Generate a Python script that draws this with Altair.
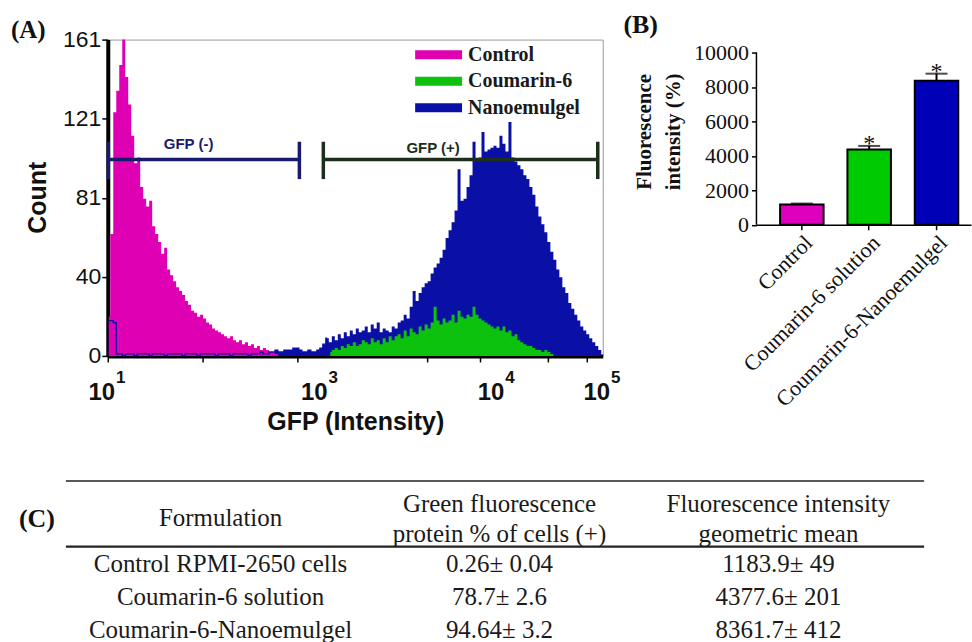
import altair as alt
import pandas as pd

# ---------------- Panel (A): flow-cytometry histograms ----------------
SERIES = ["Control", "Coumarin-6", "Nanoemulgel"]
HIST_COLORS = ["#E000B4", "#0CC20C", "#0A10A6"]
BIN = 6  # width of one histogram bin, in channel units

control_start = 2
control_counts = [20, 62, 124, 135, 148, 161, 142, 128, 112, 98, 101, 86, 80, 76, 79, 66, 62, 58, 52, 55,
                  44, 41, 38, 35, 33, 31, 28, 26, 23, 22, 20, 21, 19, 17, 16, 14, 13, 12, 11, 10,
                  9, 10, 8, 7, 8, 6, 7, 5, 6, 4, 5, 3, 4, 3, 2, 2, 1, 0]

nano_start = 2
nano_counts = [18, 18, 17,
               1, 1, 0, 1, 1, 1, 0, 1, 1, 1, 1, 0, 1, 1, 1, 1, 0, 1, 1, 1, 1, 1, 0, 1, 1, 1, 1, 0, 1, 1,
               1, 1, 1, 0, 1, 1, 1, 1, 0, 1, 1, 1, 1, 1, 0, 1, 1, 1, 2, 1, 1,
               2, 2, 3, 2, 2, 3, 3, 3, 4, 4, 3, 2, 2, 3, 2, 2, 3, 4,
               6, 9, 7, 10, 8, 11, 9, 12, 10, 13, 11, 14, 12, 13, 15, 12, 16, 14, 17, 12,
               14, 13, 12, 15, 14, 17, 18, 21, 19, 25, 33, 28, 32, 35, 37, 38, 42, 45, 47, 50,
               54, 60, 64, 68, 74, 95, 79, 80, 86, 92, 109, 100, 101, 114, 104, 105, 106, 107, 106, 112,
               108, 104, 119, 101, 99, 97, 95, 92, 90, 86, 82, 76, 71, 67, 63, 58, 53, 49, 44, 40,
               35, 32, 27, 24, 21, 18, 15, 13, 11, 9, 7, 5, 3, 0]

coum_start = 446
coum_counts = [2, 3, 4, 3, 5, 4, 6, 5, 7, 5, 6, 8, 7, 6, 9, 7, 8, 6, 9, 7,
               10, 8, 10, 11, 9, 13, 10, 14, 12, 11, 15, 13, 16, 14, 17, 25, 18, 16, 19, 17,
               18, 21, 17, 23, 20, 19, 21, 20, 25, 21, 19, 18, 17, 16, 15, 14, 15, 13, 15, 12,
               13, 10, 11, 8, 7, 6, 5, 5, 4, 3, 3, 2, 3, 2, 1, 0]

# axis: channel positions of the decade marks and the minor ticks
X_MAJOR = [0, 426, 780, 992]
X_EXP = ["1", "3", "4", "5"]
X_MINOR = [47, 95, 142, 189, 237, 284, 331, 379,
           533, 595, 639, 673, 702, 725, 746, 764,
           844, 881, 908, 928, 945, 959, 971, 982]
Y_TICKS = [161 * i / 16 for i in range(17)]

# gates
gate_names = ["GFP (-)", "GFP (+)"]
gate_start = [1, 432]
gate_end = [384, 982]
gate_level = [100, 100]
gate_cap_low = [90, 90]
gate_cap_high = [109, 109]
gate_label_ch = [162, 652]
gate_label_level = [108, 106]
gate_colors = ["#181a6c", "#1c2e1c"]

# ---------------- Panel (B): bar chart ----------------
groups = ["Control", "Coumarin-6 solution", "Coumarin-6-Nanoemulgel"]
fi_mean = [1183.9, 4377.6, 8361.7]
fi_sd = [49, 201, 412]
bar_colors = ["#DF00BE", "#00CB00", "#0000B6"]
signif = ["", "*", "*"]
B_TICKS = [0, 2000, 4000, 6000, 8000, 10000]

# ---------------- Panel (C): table ----------------
formulations = ["Control RPMI-2650 cells", "Coumarin-6 solution", "Coumarin-6-Nanoemulgel"]
gfp_mean = [0.26, 78.7, 94.64]
gfp_sd = [0.04, 2.6, 3.2]
col_keys = ["form", "gfp", "fi"]
header_line1 = ["", "Green fluorescence", "Fluorescence intensity"]
header_line2 = ["", "protein % of cells (+)", "geometric mean"]
ROWS = ["h1", "h2", "r1", "r2", "r3"]

# ======================================================================
rows = []
for name, start, counts in [("Nanoemulgel", nano_start, nano_counts),
                            ("Coumarin-6", coum_start, coum_counts),
                            ("Control", control_start, control_counts)]:
    for i, c in enumerate(counts):
        rows.append({"series": name, "channel": start + BIN * i, "count": c})
hist = pd.DataFrame(rows)

SANS = "Liberation Sans"
SERIF = "Liberation Serif"
INK = "#111111"

xA = alt.X(
    "channel:Q",
    scale=alt.Scale(domain=[0, 992], nice=False, zero=False),
    axis=alt.Axis(
        values=sorted(X_MAJOR + X_MINOR), labels=False,
        tickSize=6, tickWidth=1.5, tickColor="black",
        domainColor="black", domainWidth=4, grid=False,
        title="GFP (Intensity)", titleFont=SANS, titleFontSize=25, titleFontWeight="bold",
        titleColor=INK, titleY=66, titleBaseline="middle",
    ),
)
yA = alt.Y(
    "count:Q",
    scale=alt.Scale(domain=[0, 161], nice=False),
    axis=alt.Axis(
        values=Y_TICKS,
        labelExpr="abs(datum.value/40.25 - round(datum.value/40.25)) < 0.001 ? '' + round(datum.value) : ''",
        labelFont=SANS, labelFontSize=23, labelColor=INK, labelPadding=1, labelOverlap=False,
        tickSize=6, tickWidth=1.5, tickColor="black",
        domainColor="black", domainWidth=4, grid=False,
        title="Count", titleFont=SANS, titleFontSize=25, titleFontWeight="bold", titleColor=INK,
        titleAngle=270, titleX=-70, titleY=158, titleBaseline="middle", titleAlign="center",
    ),
)
color_scale = alt.Scale(domain=SERIES, range=HIST_COLORS)


def hist_area(name):
    return (
        alt.Chart(hist)
        .transform_filter(alt.datum.series == name)
        .mark_area(interpolate="step", opacity=1)
        .encode(x=xA, y=yA, color=alt.Color("series:N", scale=color_scale, legend=None))
    )


blue_outline = (
    alt.Chart(hist)
    .transform_filter((alt.datum.series == "Nanoemulgel") & (alt.datum.channel <= 440))
    .mark_line(interpolate="step", color=HIST_COLORS[2], strokeWidth=1.3)
    .encode(x=xA, y=yA)
)

gates = pd.DataFrame({
    "gate": gate_names, "start": gate_start, "end": gate_end, "level": gate_level,
    "low": gate_cap_low, "high": gate_cap_high,
    "label_ch": gate_label_ch, "label_level": gate_label_level,
})
gate_layers = []
for gname, gcol in zip(gate_names, gate_colors):
    base = alt.Chart(gates).transform_filter(alt.datum.gate == gname)
    gate_layers.append(base.mark_rule(color=gcol, strokeWidth=3.5).encode(x="start:Q", x2="end:Q", y="level:Q"))
    gate_layers.append(base.mark_rule(color=gcol, strokeWidth=3.5).encode(x="start:Q", y="low:Q", y2="high:Q"))
    gate_layers.append(base.mark_rule(color=gcol, strokeWidth=3.5).encode(x="end:Q", y="low:Q", y2="high:Q"))
    gate_layers.append(
        base.mark_text(font=SANS, fontSize=15, fontWeight="bold", color=gcol, baseline="middle")
        .encode(x="label_ch:Q", y="label_level:Q", text="gate:N")
    )

# decade labels "10" with superscript exponents
sup = pd.DataFrame({"channel": X_MAJOR, "exp": X_EXP})
tens = (
    alt.Chart(sup)
    .mark_text(font=SANS, fontSize=24, fontWeight="bold", color=INK, dx=-6, baseline="middle")
    .encode(x="channel:Q", y=alt.value(354), text=alt.value("10"))
)
superscripts = (
    alt.Chart(sup)
    .mark_text(font=SANS, fontSize=17, fontWeight="bold", color=INK, dx=13, baseline="middle")
    .encode(x="channel:Q", y=alt.value(339), text="exp:N")
)

one = pd.DataFrame({"t": ["(A)"]})
label_A = alt.Chart(one).mark_text(font=SERIF, fontSize=25, fontWeight="bold", color=INK,
                                   align="left", baseline="middle").encode(
    x=alt.value(-97), y=alt.value(-10), text="t:N")
label_C = alt.Chart(pd.DataFrame({"t": ["(C)"]})).mark_text(
    font=SERIF, fontSize=26, fontWeight="bold", color=INK, align="left", baseline="middle").encode(
    x=alt.value(-89), y=alt.value(480), text="t:N")
anchor = alt.Chart(one).mark_point(size=1, opacity=0, filled=True).encode(
    x=alt.value(-107), y=alt.value(-37.7))

A_inner = alt.layer(
    hist_area("Nanoemulgel"), hist_area("Coumarin-6"), hist_area("Control"), blue_outline,
    *gate_layers, tens, superscripts, label_A, label_C, anchor,
)

# ---- legend of panel A (own point scale for the rows) ----
legend_df = pd.DataFrame({"series": SERIES})
yL = alt.Y("series:N", scale=alt.Scale(type="point", domain=SERIES, range=[15.3, 68.3], padding=0), axis=None)
L_inner = alt.layer(
    alt.Chart(legend_df).mark_rule(strokeWidth=9).encode(
        x=alt.value(308), x2=alt.value(355), y=yL,
        color=alt.Color("series:N", scale=color_scale, legend=None)),
    alt.Chart(legend_df).mark_text(font=SERIF, fontSize=20, fontWeight="bold", color="#1a1a1a",
                                   align="left", baseline="middle").encode(
        x=alt.value(361), y=yL, text="series:N"),
)

# ---- table (C) drawn with its own point / band scales ----
cells = []
for k, h1, h2 in zip(col_keys, header_line1, header_line2):
    cells.append({"col": k, "row": "h1", "text": h1, "kind": "head1"})
    cells.append({"col": k, "row": "h2", "text": h2, "kind": "head2"})
cells.append({"col": "form", "row": "h1", "text": "Formulation", "kind": "form"})
for r, f, gm, gs, fm, fs in zip(["r1", "r2", "r3"], formulations, gfp_mean, gfp_sd, fi_mean, fi_sd):
    cells.append({"col": "form", "row": r, "text": f, "kind": "body"})
    cells.append({"col": "gfp", "row": r, "text": f"{gm}\u00b1 {gs}", "kind": "body"})
    cells.append({"col": "fi", "row": r, "text": f"{fm}\u00b1 {fs}", "kind": "body"})
cells = pd.DataFrame(cells)

ROW_RANGE = [442.3, 606.8]
xC = alt.X("col:N", scale=alt.Scale(type="point", domain=col_keys, range=[113, 672], padding=0), axis=None)
yC = alt.Y("row:N", scale=alt.Scale(type="band", domain=ROWS, range=ROW_RANGE,
                                    paddingInner=0, paddingOuter=0), axis=None)


def table_text(kind, dy):
    return (
        alt.Chart(cells)
        .transform_filter(alt.datum.kind == kind)
        .mark_text(font=SERIF, fontSize=25, color="#1a1a1a", baseline="middle", dy=dy)
        .encode(x=xC, y=yC, text="text:N")
    )


rules = pd.DataFrame({"row": ["h1", "r1"], "w": [1.6, 2.4]})
table_rules = alt.Chart(rules).mark_rule(color="#222222").encode(
    y=alt.Y("row:N", bandPosition=0, scale=alt.Scale(type="band", domain=ROWS, range=ROW_RANGE,
                                                     paddingInner=0, paddingOuter=0), axis=None),
    x=alt.value(-42), x2=alt.value(818),
    strokeWidth=alt.StrokeWidth("w:Q", scale=None),
)
C_inner = alt.layer(
    table_rules, table_text("head1", 7), table_text("head2", 4), table_text("form", 21), table_text("body", 1)
)

panelA = (
    alt.layer(A_inner, L_inner, C_inner)
    .resolve_scale(x="independent", y="independent")
    .properties(width=496, height=317, view=alt.ViewBackground(stroke="#9a9a9a", strokeWidth=1))
)

# ---------------- Panel (B) ----------------
dfB = pd.DataFrame({"group": groups, "mean": fi_mean, "sd": fi_sd, "color": bar_colors, "sig": signif})
xB = alt.X(
    "group:N", sort=groups,
    scale=alt.Scale(type="band", paddingInner=0.354, paddingOuter=0.27, align=0.65),
    axis=alt.Axis(labelAngle=315, labelFont=SERIF, labelFontSize=22, labelColor=INK, labelLimit=400,
                  tickSize=5, tickWidth=1.5, tickColor="black", domainColor="black", domainWidth=1.5,
                  labelPadding=2, title=None),
)
yscaleB = alt.Scale(domain=[0, 10753], nice=False)
yaxisB = alt.Axis(values=B_TICKS, domain=False, grid=False,
                  format="d", labelOverlap=False, labelFlush=False,
                  tickSize=5, tickWidth=1.5, tickColor="black",
                  labelFont=SERIF, labelFontSize=22, labelColor=INK, labelPadding=3,
                  title=["Fluorescence", "intensity (%)"], titleFont=SERIF, titleFontSize=21,
                  titleFontWeight="bold", titleColor=INK, titleAngle=270, titleX=-112, titleY=92,
                  titleAlign="center", titleBaseline="middle", titleLineHeight=29)
baseB = alt.Chart(dfB).transform_calculate(upper="datum.mean + datum.sd")
bars = baseB.mark_bar(stroke="black", strokeWidth=2).encode(
    x=xB, y=alt.Y("mean:Q", scale=yscaleB, axis=yaxisB), color=alt.Color("color:N", scale=None))
err = baseB.mark_rule(color="black", strokeWidth=2).encode(
    x=xB, y=alt.Y("mean:Q", scale=yscaleB, axis=yaxisB), y2="upper:Q")
caps = baseB.mark_tick(color="black", thickness=2, size=22).encode(
    x=xB, y=alt.Y("upper:Q", scale=yscaleB, axis=yaxisB))
stars = baseB.mark_text(font=SERIF, fontSize=24, color=INK, baseline="alphabetic", dy=5).encode(
    x=xB, y=alt.Y("upper:Q", scale=yscaleB, axis=yaxisB), text="sig:N")
y_line = alt.Chart(pd.DataFrame({"t": [0]})).mark_rule(color="black", strokeWidth=1.5).encode(
    x=alt.value(0), y=alt.datum(0, scale=yscaleB, axis=yaxisB), y2=alt.datum(10000))
label_B = alt.Chart(pd.DataFrame({"t": ["(B)"]})).mark_text(
    font=SERIF, fontSize=26, fontWeight="bold", color=INK, baseline="middle").encode(
    x=alt.value(-116), y=alt.value(-15), text="t:N")

panelB = alt.layer(bars, err, caps, stars, y_line, label_B).properties(
    width=215, height=185.6, view=alt.ViewBackground(stroke="transparent"))

chart = alt.hconcat(panelA, panelB, spacing=154, bounds="flush").properties(padding=0)

chart.save("out.html", embed_options={"renderer": "svg", "actions": False})
